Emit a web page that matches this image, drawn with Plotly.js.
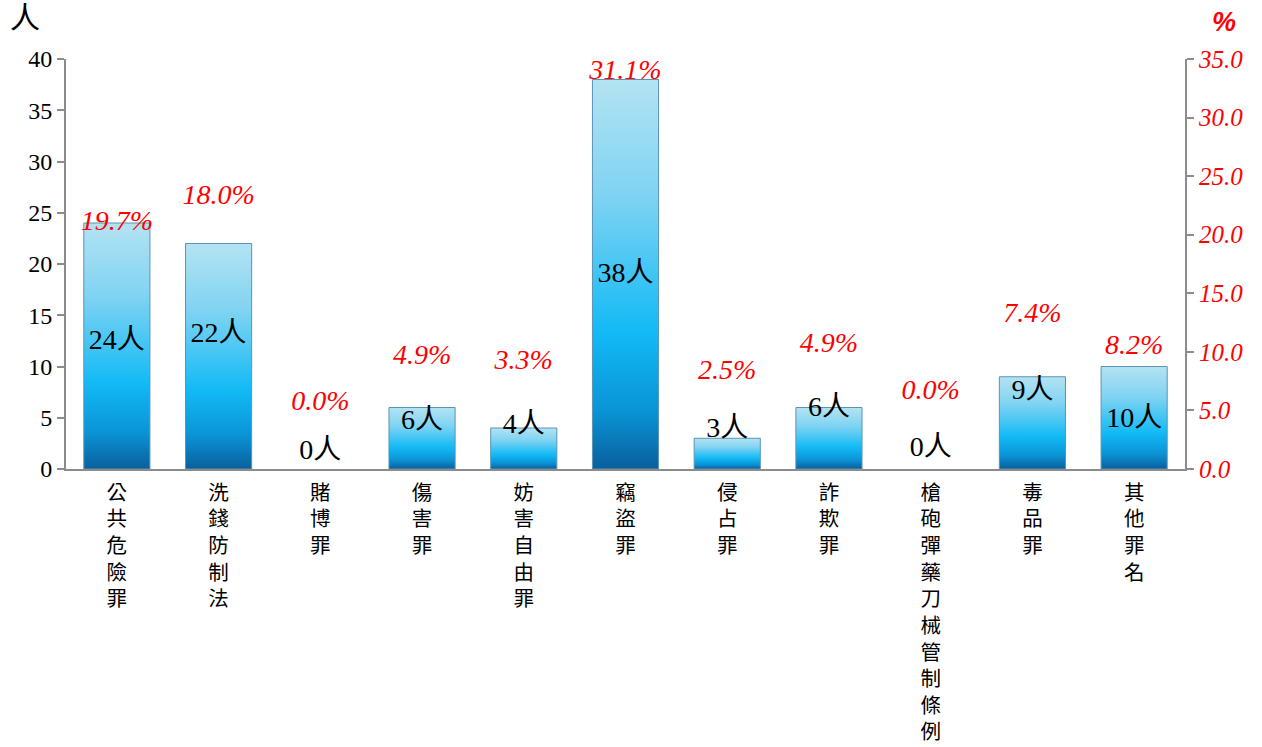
<!DOCTYPE html>
<html>
<head>
<meta charset="utf-8">
<script src="https://cdn.plot.ly/plotly-3.0.1.min.js"></script>
<style>html,body{margin:0;padding:0;background:#fff;}#chart{width:1262px;height:747px;}</style>
</head>
<body>
<div id="chart"></div>
<script>
const categories = ["公共危險罪","洗錢防制法","賭博罪","傷害罪","妨害自由罪","竊盜罪","侵占罪","詐欺罪","槍砲彈藥刀械管制條例","毒品罪","其他罪名"];
const counts = [24, 22, 0, 6, 4, 38, 3, 6, 0, 9, 10];
const percents = [19.7, 18.0, 0.0, 4.9, 3.3, 31.1, 2.5, 4.9, 0.0, 7.4, 8.2];
// vertical placement (left-axis units) of the labels
const pctLabelY = [24.0, 26.5, 6.4, 10.9, 10.4, 38.7, 9.5, 12.1, 7.5, 15.0, 11.9];
const countLabelY = [12.4, 13.1, 1.7, 4.6, 4.2, 18.9, 3.8, 5.9, 2.0, 7.5, 4.8];
const leftTicks = [0, 5, 10, 15, 20, 25, 30, 35, 40];
const rightTicks = [0, 5, 10, 15, 20, 25, 30, 35];

const FONT = "Liberation Serif, Times New Roman, Noto Sans CJK TC, serif";
const vertLabels = categories.map(c => c.split("").join("<br>"));

const traces = [
  {
    type: "bar", x: categories, y: counts, width: 0.65,
    marker: {color: "#1ab8f0", line: {color: "#5b93b5", width: counts.map(v => v > 0 ? 1 : 0)}},
    hoverinfo: "skip", showlegend: false
  },
  {
    type: "scatter", mode: "text", x: categories, y: countLabelY,
    text: counts.map(v => v + "人"),
    textfont: {family: FONT, size: 28, color: "#000"},
    hoverinfo: "skip", showlegend: false
  },
  {
    type: "scatter", mode: "text", x: categories, y: pctLabelY,
    text: percents.map(v => v.toFixed(1) + "%"),
    textfont: {family: FONT, size: 28, color: "#ff0000", style: "italic"},
    hoverinfo: "skip", showlegend: false
  },
  {
    type: "scatter", mode: "none", x: categories, y: percents, yaxis: "y2",
    hoverinfo: "skip", showlegend: false
  }
];

const layout = {
  width: 1262, height: 747,
  margin: {l: 66, r: 77, t: 59, b: 278},
  paper_bgcolor: "#fff", plot_bgcolor: "#fff",
  font: {family: FONT, color: "#000"},
  xaxis: {
    type: "category", tickvals: categories, ticktext: vertLabels,
    range: [-0.5, categories.length - 0.5],
    tickfont: {family: FONT, size: 20.5, color: "#000"},
    showline: true, linecolor: "#8c8c8c", linewidth: 2,
    ticks: "", showgrid: false, zeroline: false, fixedrange: true,
    tickangle: 0, ticklabelstandoff: 4
  },
  yaxis: {
    range: [0, 40], tickvals: leftTicks,
    tickfont: {family: FONT, size: 24, color: "#000"},
    showline: true, linecolor: "#8c8c8c", linewidth: 2,
    ticks: "outside", ticklen: 7, tickcolor: "#8c8c8c", tickwidth: 2,
    showgrid: false, zeroline: false, fixedrange: true
  },
  yaxis2: {
    overlaying: "y", side: "right", range: [0, 35], tickvals: rightTicks,
    ticktext: rightTicks.map(v => v.toFixed(1)),
    tickfont: {family: FONT, size: 25, color: "#ff0000", style: "italic"},
    showline: true, linecolor: "#8c8c8c", linewidth: 2,
    ticks: "outside", ticklen: 7, tickcolor: "#8c8c8c", tickwidth: 2,
    showgrid: false, zeroline: false, fixedrange: true
  },
  annotations: [
    {text: "人", xref: "paper", yref: "paper", x: -0.052, y: 1.1, xanchor: "left", yanchor: "middle",
     showarrow: false, font: {family: FONT, size: 30, color: "#000"}},
    {text: "<b><i>%</i></b>", xref: "paper", yref: "paper", x: 1.0225, y: 1.09, xanchor: "left", yanchor: "middle",
     showarrow: false, font: {family: "Liberation Sans, Arial, sans-serif", size: 27, color: "#ff0000"}}
  ]
};

Plotly.newPlot("chart", traces, layout, {displayModeBar: false, staticPlot: true}).then(gd => {
  const svgNS = "http://www.w3.org/2000/svg";
  const svg = gd.querySelector("svg.main-svg");
  let defs = svg.querySelector("defs");
  if (!defs) { defs = document.createElementNS(svgNS, "defs"); svg.insertBefore(defs, svg.firstChild); }
  const grad = document.createElementNS(svgNS, "linearGradient");
  grad.setAttribute("id", "barGrad");
  grad.setAttribute("x1", "0"); grad.setAttribute("y1", "0");
  grad.setAttribute("x2", "0"); grad.setAttribute("y2", "1");
  [["0", "#b4e3f2"], ["0.3", "#7fd3f2"], ["0.65", "#12baf5"], ["0.85", "#0a94d6"], ["1", "#0a5f9c"]].forEach(([o, c]) => {
    const s = document.createElementNS(svgNS, "stop");
    s.setAttribute("offset", o); s.setAttribute("stop-color", c);
    grad.appendChild(s);
  });
  defs.appendChild(grad);
  gd.querySelectorAll(".trace.bars .point path").forEach(p => {
    p.style.fill = "url(#barGrad)";
  });
});
</script>
</body>
</html>
